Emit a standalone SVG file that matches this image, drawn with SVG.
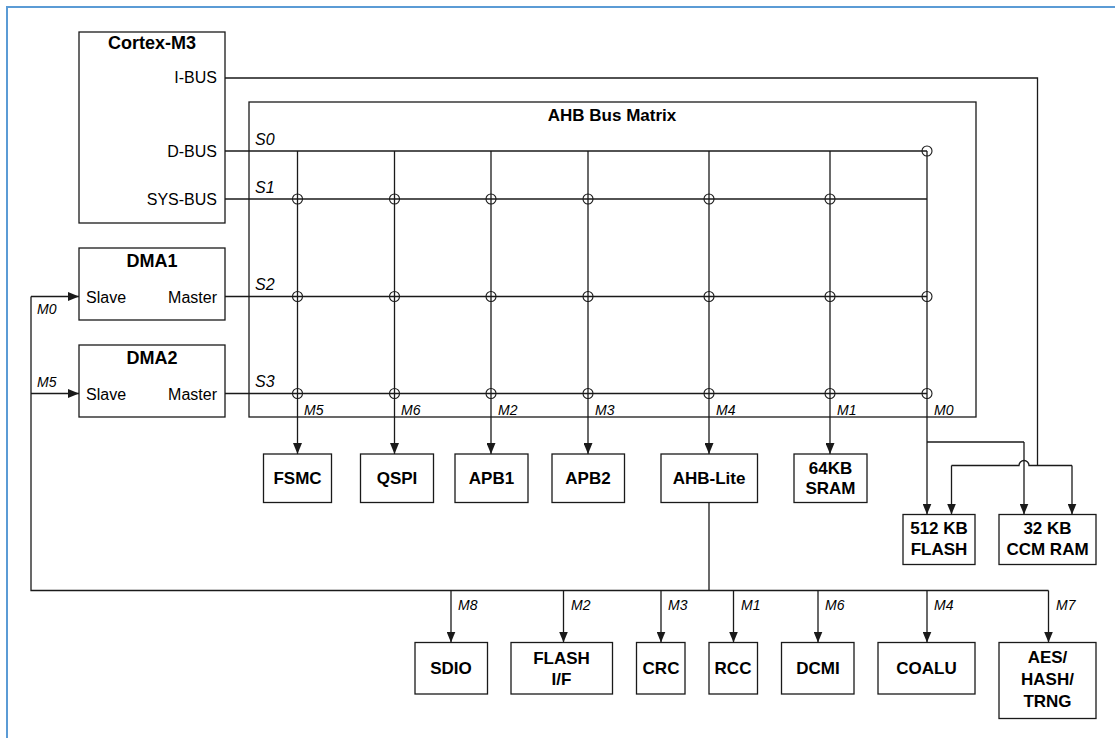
<svg xmlns="http://www.w3.org/2000/svg" width="1115" height="738" viewBox="0 0 1115 738">
<style>
  .box{fill:#fff;stroke:#1a1a1a;stroke-width:1.3}
  .frame{fill:none;stroke:#5b9bd5;stroke-width:2}
  .ln{fill:none;stroke:#1a1a1a;stroke-width:1.3}
  .arr{fill:none;stroke:#1a1a1a;stroke-width:1.3;marker-end:url(#ah)}
  .jc{fill:none;stroke:#1a1a1a;stroke-width:1.1}
  .b{font-family:"Liberation Sans",Arial,sans-serif;font-weight:bold;font-size:17px;fill:#000}
  .r{font-family:"Liberation Sans",Arial,sans-serif;font-size:16px;fill:#000}
  .s{font-family:"Liberation Sans",Arial,sans-serif;font-style:italic;font-size:16px;fill:#000}
  .m{font-family:"Liberation Sans",Arial,sans-serif;font-style:italic;font-size:14px;fill:#000}
  .c{text-anchor:middle}
  .e{text-anchor:end}
</style>
<defs>
  <marker id="ah" markerWidth="11" markerHeight="9" refX="11" refY="4.5" orient="auto" markerUnits="userSpaceOnUse">
    <path d="M0,0 L11,4.5 L0,9 z" fill="#1a1a1a"/>
  </marker>
</defs>
<rect width="1115" height="738" fill="#fff"/>
<path class="frame" d="M7,738 V7 H1115"/>

<g id="cortex-m3">
  <rect class="box" x="79" y="32" width="146" height="191"/>
  <text class="b c" x="152" y="49" style="font-size:18px">Cortex-M3</text>
  <text class="r e" x="217" y="83">I-BUS</text>
  <text class="r e" x="217" y="157">D-BUS</text>
  <text class="r e" x="217" y="205">SYS-BUS</text>
</g>
<g id="dma1">
  <rect class="box" x="79" y="248" width="146" height="72"/>
  <text class="b c" x="152" y="267" style="font-size:18px">DMA1</text>
  <text class="r" x="86" y="303">Slave</text>
  <text class="r e" x="217" y="303">Master</text>
</g>
<g id="dma2">
  <rect class="box" x="79" y="345" width="146" height="72"/>
  <text class="b c" x="152" y="364" style="font-size:18px">DMA2</text>
  <text class="r" x="86" y="400">Slave</text>
  <text class="r e" x="217" y="400">Master</text>
</g>
<g id="ahb-bus-matrix">
  <rect class="box" x="249" y="102" width="727" height="315"/>
  <text class="b c" x="612" y="121">AHB Bus Matrix</text>
  <text class="s" x="255" y="145">S0</text>
  <text class="s" x="255" y="193">S1</text>
  <text class="s" x="255" y="290">S2</text>
  <text class="s" x="255" y="387">S3</text>
</g>

<g id="connectors">
  <path class="ln" d="M225,151 H927"/>
  <path class="ln" d="M225,199 H927"/>
  <path class="ln" d="M225,296.5 H927"/>
  <path class="ln" d="M225,393.5 H927"/>
  <path class="arr" d="M297.5,151 V454"/>
  <path class="arr" d="M394.5,151 V454"/>
  <path class="arr" d="M491,151 V454"/>
  <path class="arr" d="M588,151 V454"/>
  <path class="arr" d="M709,151 V454"/>
  <path class="arr" d="M830,151 V454"/>
  <path class="arr" d="M927,151 V514.5"/>
  <g class="jc">
    <circle cx="297.5" cy="199" r="5"/><circle cx="394.5" cy="199" r="5"/><circle cx="491" cy="199" r="5"/><circle cx="588" cy="199" r="5"/><circle cx="709" cy="199" r="5"/><circle cx="830" cy="199" r="5"/>
    <circle cx="297.5" cy="296.5" r="5"/><circle cx="394.5" cy="296.5" r="5"/><circle cx="491" cy="296.5" r="5"/><circle cx="588" cy="296.5" r="5"/><circle cx="709" cy="296.5" r="5"/><circle cx="830" cy="296.5" r="5"/><circle cx="927" cy="296.5" r="5"/>
    <circle cx="297.5" cy="393.5" r="5"/><circle cx="394.5" cy="393.5" r="5"/><circle cx="491" cy="393.5" r="5"/><circle cx="588" cy="393.5" r="5"/><circle cx="709" cy="393.5" r="5"/><circle cx="830" cy="393.5" r="5"/><circle cx="927" cy="393.5" r="5"/>
    <circle cx="927" cy="151" r="5"/>
  </g>
  <text class="m" x="304" y="415">M5</text>
  <text class="m" x="401" y="415">M6</text>
  <text class="m" x="498" y="415">M2</text>
  <text class="m" x="595" y="415">M3</text>
  <text class="m" x="716" y="415">M4</text>
  <text class="m" x="837" y="415">M1</text>
  <text class="m" x="934" y="415">M0</text>
  <path class="ln" d="M225,78 H1037.5 V465.5"/>
  <path class="ln" d="M927,442 H1024"/>
  <path class="arr" d="M1024,442 V514.5"/>
  <path class="ln" d="M951.5,465.5 H1019 A5,5 0 0 1 1029,465.5 H1072"/>
  <path class="arr" d="M951.5,465.5 V514.5"/>
  <path class="arr" d="M1072,465.5 V514.5"/>
  <path class="ln" d="M709,502.5 V590.5"/>
  <path class="ln" d="M31,296.5 V590.5 H1048.5"/>
  <path class="arr" d="M31,296.5 H79"/>
  <path class="arr" d="M31,393.5 H79"/>
  <text class="m" x="37" y="314">M0</text>
  <text class="m" x="37" y="387">M5</text>
  <path class="arr" d="M451,590.5 V642.5"/>
  <path class="arr" d="M563.5,590.5 V642.5"/>
  <path class="arr" d="M661,590.5 V642.5"/>
  <path class="arr" d="M733.5,590.5 V642.5"/>
  <path class="arr" d="M818,590.5 V642.5"/>
  <path class="arr" d="M927,590.5 V642.5"/>
  <path class="arr" d="M1048.5,590.5 V642.5"/>
  <text class="m" x="458" y="610">M8</text>
  <text class="m" x="571" y="610">M2</text>
  <text class="m" x="668" y="610">M3</text>
  <text class="m" x="741" y="610">M1</text>
  <text class="m" x="825" y="610">M6</text>
  <text class="m" x="934" y="610">M4</text>
  <text class="m" x="1056" y="610">M7</text>
</g>

<g id="fsmc"><rect class="box" x="263.5" y="454" width="68" height="48.5"/><text class="b c" x="297.5" y="484">FSMC</text></g>
<g id="qspi"><rect class="box" x="360.5" y="454" width="73" height="48.5"/><text class="b c" x="397" y="484">QSPI</text></g>
<g id="apb1"><rect class="box" x="455" y="454" width="73" height="48.5"/><text class="b c" x="491.5" y="484">APB1</text></g>
<g id="apb2"><rect class="box" x="552" y="454" width="72.5" height="48.5"/><text class="b c" x="588" y="484">APB2</text></g>
<g id="ahb-lite"><rect class="box" x="661" y="454" width="96.5" height="48.5"/><text class="b c" x="709" y="484">AHB-Lite</text></g>
<g id="sram"><rect class="box" x="794" y="454" width="73" height="48.5"/><text class="b c" x="830.5" y="474">64KB</text><text class="b c" x="830.5" y="494">SRAM</text></g>
<g id="flash"><rect class="box" x="903" y="514.5" width="72" height="50"/><text class="b c" x="939" y="534">512 KB</text><text class="b c" x="939" y="555">FLASH</text></g>
<g id="ccm-ram"><rect class="box" x="999" y="514.5" width="97" height="50"/><text class="b c" x="1047.5" y="534">32 KB</text><text class="b c" x="1047.5" y="555">CCM RAM</text></g>

<g id="sdio"><rect class="box" x="415" y="642.5" width="72.5" height="51.5"/><text class="b c" x="451" y="674">SDIO</text></g>
<g id="flash-if"><rect class="box" x="511" y="642.5" width="101.5" height="51.5"/><text class="b c" x="561.5" y="664">FLASH</text><text class="b c" x="561.5" y="685">I/F</text></g>
<g id="crc"><rect class="box" x="636.5" y="642.5" width="48.5" height="51.5"/><text class="b c" x="661" y="674">CRC</text></g>
<g id="rcc"><rect class="box" x="709" y="642.5" width="48.5" height="51.5"/><text class="b c" x="733" y="674">RCC</text></g>
<g id="dcmi"><rect class="box" x="781.5" y="642.5" width="72.5" height="51.5"/><text class="b c" x="818" y="674">DCMI</text></g>
<g id="coalu"><rect class="box" x="878" y="642.5" width="97" height="51.5"/><text class="b c" x="926.5" y="674">COALU</text></g>
<g id="aes-hash-trng"><rect class="box" x="999" y="642.5" width="97" height="76"/><text class="b c" x="1047.5" y="663">AES/</text><text class="b c" x="1047.5" y="685">HASH/</text><text class="b c" x="1047.5" y="707">TRNG</text></g>
</svg>
